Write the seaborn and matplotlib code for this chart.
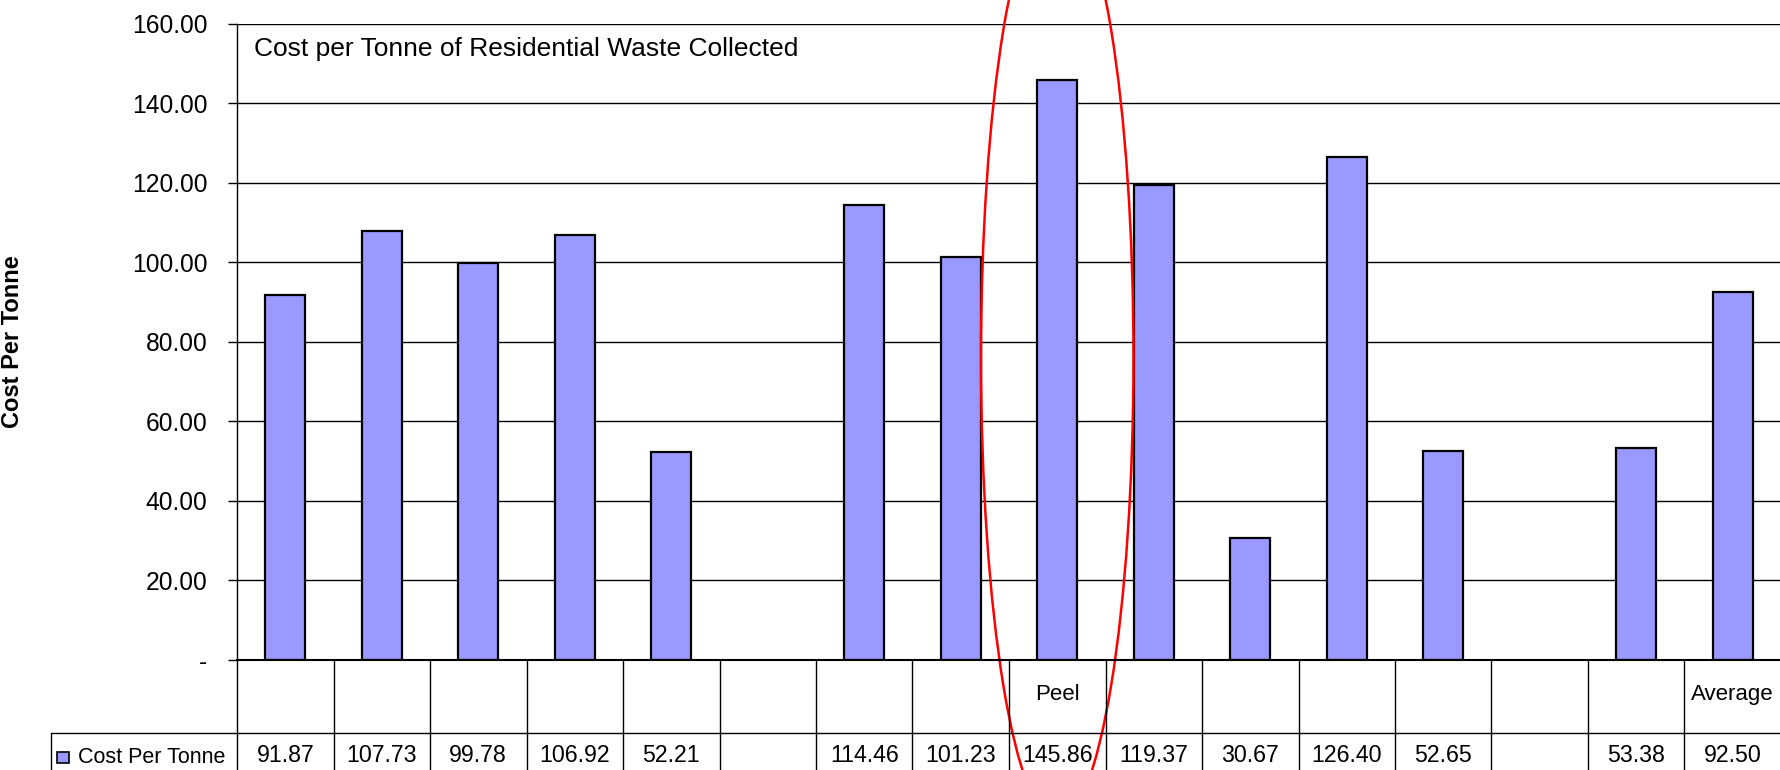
import matplotlib
matplotlib.use("Agg")
import matplotlib.pyplot as plt
import seaborn as sns
import numpy as np
import pandas as pd
from matplotlib.patches import Ellipse, Rectangle
from matplotlib.transforms import blended_transform_factory

# ---- data ----
keys = [f"c{i}" for i in range(16)]
labels = ["", "", "", "", "", "", "", "", "Peel", "", "", "", "", "", "", "Average"]
values = [91.87, 107.73, 99.78, 106.92, 52.21, np.nan, 114.46, 101.23, 145.86,
          119.37, 30.67, 126.40, 52.65, np.nan, 53.38, 92.50]
value_text = ["91.87", "107.73", "99.78", "106.92", "52.21", "", "114.46", "101.23",
              "145.86", "119.37", "30.67", "126.40", "52.65", "", "53.38", "92.50"]
yticks = [0, 20, 40, 60, 80, 100, 120, 140, 160]
ytick_labels = ["-", "20.00", "40.00", "60.00", "80.00", "100.00", "120.00", "140.00", "160.00"]
series_name = "Cost Per Tonne"
title = "Cost per Tonne of Residential Waste Collected"
highlight = "Peel"

sns.set_theme(style="white")
plt.rcParams["font.family"] = ["Liberation Sans", "DejaVu Sans"]
for k in ["text.color", "axes.labelcolor", "xtick.color", "ytick.color"]:
    plt.rcParams[k] = "black"

W, H = 1781, 770
fig = plt.figure(figsize=(W / 100, H / 100), dpi=100)
ax_l, ax_r, ax_t, ax_b = 237, 1781, 23.5, 660
ax = fig.add_axes([ax_l / W, 1 - ax_b / H, (ax_r - ax_l) / W, (ax_b - ax_t) / H])

df = pd.DataFrame({"key": keys, "value": values})
bar_color = "#9999FF"
sns.barplot(data=df, x="key", y="value", order=keys, color=bar_color, width=0.415,
            edgecolor="black", linewidth=1.6, saturation=1, ax=ax)

ax.set_xlim(-0.5, len(keys) - 0.5)
ax.set_ylim(0, 160)
ax.set_yticks(yticks)
ax.set_yticklabels(ytick_labels, fontsize=17.7)
ax.set_xticks([])
ax.set_xlabel("")
ax.set_ylabel(series_name, fontsize=17, fontweight="bold", labelpad=0)
ax.yaxis.set_label_coords(-(ax_l - 24) / (ax_r - ax_l), 0.5)
ax.tick_params(axis="y", length=6.5, width=1, color="black", pad=15, direction="out", left=True)
for y in yticks[1:]:
    ax.axhline(y, color="black", lw=1, zorder=0)
for s in ["top", "right"]:
    ax.spines[s].set_visible(False)
ax.spines["left"].set_color("black")
ax.spines["left"].set_linewidth(1)
ax.spines["bottom"].set_color("black")
ax.spines["bottom"].set_linewidth(1.5)

fig.text(254 / W, 1 - 56 / H, title, fontsize=19, va="baseline", ha="left")

# ---- data table ----
tr = blended_transform_factory(ax.transData, ax.transAxes)
hpx = ax_b - ax_t
row1_bot = -(733 - ax_b) / hpx
row1_base = -(700 - ax_b) / hpx
row2_base = -(762 - ax_b) / hpx
fig_bot = -(H + 5 - ax_b) / hpx
colw = (ax_r - ax_l) / len(keys)
leg_left = -0.5 - (ax_l - 51) / colw

for i in range(len(keys) + 1):
    ax.plot([i - 0.5, i - 0.5], [0, fig_bot], transform=tr, color="black", lw=1, clip_on=False)
ax.plot([leg_left, len(keys) - 0.5], [row1_bot, row1_bot], transform=tr, color="black", lw=1, clip_on=False)
ax.plot([leg_left, leg_left], [row1_bot, fig_bot], transform=tr, color="black", lw=1, clip_on=False)

for i, (lab, vt) in enumerate(zip(labels, value_text)):
    if lab:
        ax.text(i, row1_base, lab, transform=tr, ha="center", va="baseline", fontsize=16, clip_on=False)
    if vt:
        ax.text(i, row2_base, vt, transform=tr, ha="center", va="baseline", fontsize=16.7, clip_on=False)

# legend key in table
fig.patches.append(Rectangle((57 / W, 1 - 763 / H), 12 / W, 11 / H, transform=fig.transFigure,
                             facecolor=bar_color, edgecolor="black", lw=1.2))
fig.text(78 / W, 1 - 763 / H, series_name, fontsize=15.5, va="baseline", ha="left")

# ---- highlight ellipse around Peel ----
pi = labels.index(highlight)
ell = Ellipse((pi, 76), width=1.58, height=233, fill=False, edgecolor="red", lw=1.8, clip_on=False)
ax.add_patch(ell)

fig.savefig("out.png", dpi=100)
